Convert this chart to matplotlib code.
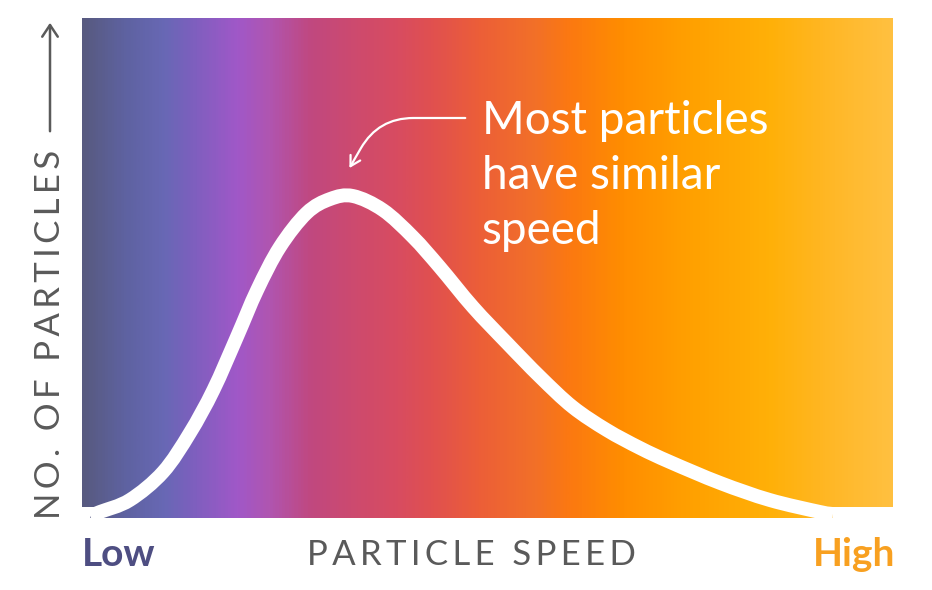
import numpy as np
import matplotlib
matplotlib.use("Agg")
import matplotlib.pyplot as plt
from matplotlib.colors import LinearSegmentedColormap
from matplotlib.path import Path
from matplotlib.patches import PathPatch, FancyArrowPatch

# curve (speed 0-100, count 0-100)
speed = [1.0, 2.2, 5.9, 10.0, 13.3, 16.2, 19.1, 21.6, 24.4, 27.7, 30.6,
         33.4, 37.1, 40.8, 44.1, 48.2, 52.4, 56.5, 60.5, 64.7, 68.8,
         72.5, 78.7, 84.8, 91.0, 92.6]
count = [0.4, 1.2, 3.6, 9.2, 17.0, 25.6, 36.2, 45.6, 54.2, 61.0, 63.8,
         64.4, 61.6, 56.2, 50.2, 42.2, 35.0, 28.2, 22.2, 17.6, 14.0,
         11.2, 7.0, 3.6, 1.2, 0.8]

# background gradient stops (position along x, colour)
grad_pos = [0.0, 0.05, 0.10, 0.13, 0.19, 0.23, 0.28, 0.33, 0.39, 0.43,
            0.49, 0.56, 0.60, 0.67, 0.75, 0.85, 0.93, 1.0]
grad_col = ["#585a80", "#5e62a0", "#6868b5", "#7a60bd", "#a058c8", "#b055b0",
            "#c04880", "#cc4a70", "#d84c60", "#e05050", "#ec5e38", "#f27028",
            "#fb7812", "#ff8e00", "#ffa000", "#ffb008", "#ffb828", "#ffc040"]


def smooth_path(xs, ys):
    # catmull-rom through the points, drawn as cubic beziers
    p = np.column_stack([xs, ys])
    verts = [p[0]]
    codes = [Path.MOVETO]
    for i in range(len(p) - 1):
        p0 = p[i - 1] if i > 0 else p[i]
        p3 = p[i + 2] if i + 2 < len(p) else p[i + 1]
        c1 = p[i] + (p[i + 1] - p0) / 6
        c2 = p[i + 1] - (p3 - p[i]) / 6
        verts += [c1, c2, p[i + 1]]
        codes += [Path.CURVE4] * 3
    return verts, codes


cmap = LinearSegmentedColormap.from_list("heat", list(zip(grad_pos, grad_col)))
grad = np.linspace(0, 1, 600).reshape(1, -1)

fig = plt.figure(figsize=(9.32, 5.90), dpi=100)
W, H = 932, 590
ax = fig.add_axes([82 / W, (H - 518) / H, 811 / W, 500 / H])
ax.set_xlim(0, 100)
ax.set_ylim(0, 100)
ax.axis("off")

verts, codes = smooth_path(speed, count)

# main block
ax.imshow(grad, cmap=cmap, extent=[0, 100, 2.2, 100], aspect="auto", zorder=1)
# the part under the curve reaches a bit lower
area = Path(verts + [(speed[-1], 0), (speed[0], 0), verts[0]],
            codes + [Path.LINETO, Path.LINETO, Path.CLOSEPOLY])
im2 = ax.imshow(grad, cmap=cmap, extent=[0, 100, 0, 100], aspect="auto", zorder=1)
im2.set_clip_path(area, transform=ax.transData)

ax.add_patch(PathPatch(Path(verts, codes), facecolor="none", edgecolor="white",
                       lw=10, capstyle="butt", joinstyle="round", zorder=3))

ax.annotate("", xy=(32.8, 69.5), xytext=(47.6, 80.0),
            arrowprops=dict(arrowstyle="->,head_length=0.7,head_width=0.4",
                            color="white", lw=1.6,
                            connectionstyle="angle,angleA=0,angleB=60,rad=35"),
            zorder=4)

ax.text(49.3, (518 - 100) / 5, "Most particles\nhave similar\nspeed", color="white",
        fontsize=33, family="Lato", ha="left", va="top", linespacing=1.38,
        zorder=4)

grey = "#5a5a5a"
ts = "\u2009"
fig.text(82 / W, 1 - 555 / H, "Low", color="#4e4e82", fontsize=28,
         family="Lato", ha="left", va="center", fontweight="bold")
fig.text(471 / W, 1 - 555 / H, ts.join("PARTICLE SPEED"),
         color=grey, fontsize=25, family="Lato", ha="center", va="center")
fig.text(895 / W, 1 - 555 / H, "High", color="#f8a020", fontsize=28,
         family="Lato", ha="right", va="center", fontweight="bold")
fig.text(50 / W, 1 - 334 / H, ts.join("NO. OF PARTICLES"), color=grey,
         fontsize=25, family="Lato", ha="center", va="center", rotation=90)
fig.add_artist(FancyArrowPatch(
    (50 / W, 1 - 134 / H), (50 / W, 1 - 20 / H), transform=fig.transFigure,
    arrowstyle="->,head_length=0.6,head_width=0.4", color=grey, lw=1.8,
    mutation_scale=14))

fig.savefig("out.png", dpi=100)
